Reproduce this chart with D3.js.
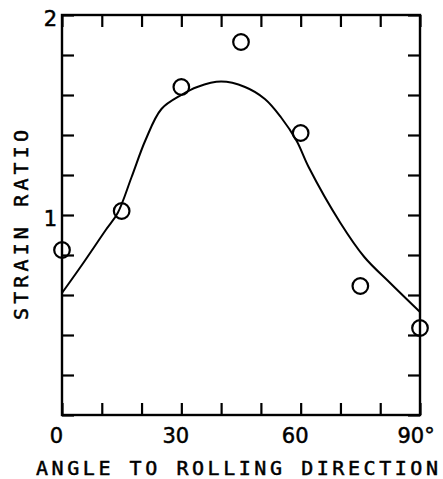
<!DOCTYPE html>
<html><head><meta charset="utf-8">
<script src="https://cdn.jsdelivr.net/npm/d3@7"></script>
<style>body{margin:0;background:#fff}svg{display:block}</style>
</head><body>
<script>
// Data
const obsAngle = [0, 15, 30, 45, 60, 75, 90];
const obsRatio = [0.825, 1.02, 1.64, 1.865, 1.41, 0.645, 0.435];
const fitAngle = [0, 5, 11, 14, 17.5, 21, 25, 30, 34, 40, 46, 51, 55, 59, 62, 70, 76, 82.5, 90];
const fitRatio = [0.61, 0.75, 0.925, 1.01, 1.19, 1.375, 1.53, 1.60, 1.64, 1.667, 1.64, 1.58, 1.49, 1.37, 1.24, 0.96, 0.79, 0.66, 0.515];
const xTickLabels = [0, 30, 60, 90];
const yTickLabels = [1, 2];
const xTitle = "ANGLE TO ROLLING DIRECTION";
const yTitle = "STRAIN RATIO";

const W = 443, H = 479;
const L = 62, R = 420, T = 15, B = 415;
const svg = d3.select("body").append("svg").attr("width", W).attr("height", H);
const x = d3.scaleLinear().domain([0, 90]).range([L, R]);
const y = d3.scaleLinear().domain([0, 2]).range([B, T]);

const xt = d3.range(0, 91, 10), yt = d3.range(0, 2.001, 0.2);
const tk = 12;
const nf = "DejaVu Sans, Verdana, sans-serif";
function styleAxis(g) {
  g.select(".domain").remove();
  g.selectAll(".tick line").attr("stroke", "#000").attr("stroke-width", 2.2);
}
function styleText(sel) {
  sel.attr("font-family", nf).attr("font-size", 21).attr("fill", "#000")
     .attr("stroke", "#000").attr("stroke-width", 0.5);
}
svg.append("g").attr("transform", `translate(0,${B})`)
  .call(d3.axisBottom(x).tickValues(xt).tickSize(-tk).tickFormat(d => xTickLabels.includes(d) ? d : ""))
  .call(styleAxis)
  .call(g => g.selectAll("text").call(styleText).attr("y", 28).attr("dy", 0).attr("dx", -6))
  .call(g => g.selectAll(".tick").filter(d => d === 90).select("text").text("90°").attr("text-anchor", "start").attr("dx", 0).attr("x", -23));
svg.append("g").attr("transform", `translate(0,${T})`)
  .call(d3.axisTop(x).tickValues(xt).tickSize(-tk).tickFormat("")).call(styleAxis);
svg.append("g").attr("transform", `translate(${L},0)`)
  .call(d3.axisLeft(y).tickValues(yt).tickSize(-tk).tickFormat(d => yTickLabels.some(v => Math.abs(v - d) < 1e-6) ? d3.format("d")(d) : ""))
  .call(styleAxis)
  .call(g => g.selectAll("text").call(styleText).attr("x", -5).attr("dy", "0.5em"));
svg.append("g").attr("transform", `translate(${R},0)`)
  .call(d3.axisRight(y).tickValues(yt).tickSize(-tk).tickFormat("")).call(styleAxis);

// frame
svg.append("rect").attr("x", L).attr("y", T).attr("width", R - L).attr("height", B - T)
  .attr("fill", "none").attr("stroke", "#000").attr("stroke-width", 2.4);

// fitted curve
const pts = fitAngle.map((a, i) => [a, fitRatio[i]]);
svg.append("path").datum(pts)
  .attr("d", d3.line().x(d => x(d[0])).y(d => y(d[1])).curve(d3.curveCatmullRom.alpha(0.5)))
  .attr("fill", "none").attr("stroke", "#000").attr("stroke-width", 2);

// observed points
svg.selectAll("circle.obs").data(obsAngle).join("circle").attr("class", "obs")
  .attr("cx", d => x(d)).attr("cy", (d, i) => y(obsRatio[i])).attr("r", 7.8)
  .attr("fill", "none").attr("stroke", "#000").attr("stroke-width", 2.2);

// titles
const tf = "DejaVu Sans Mono, monospace";
svg.append("text").attr("x", 36).attr("y", 475).attr("font-family", tf).attr("font-size", 20)
  .attr("stroke", "#000").attr("stroke-width", 0.5)
  .attr("textLength", 402).attr("lengthAdjust", "spacing").attr("fill", "#000").text(xTitle);
svg.append("text").attr("transform", "translate(28,320) rotate(-90)").attr("font-family", tf).attr("font-size", 20)
  .attr("stroke", "#000").attr("stroke-width", 0.5)
  .attr("textLength", 190).attr("lengthAdjust", "spacing").attr("fill", "#000").text(yTitle);
</script>
</body></html>
